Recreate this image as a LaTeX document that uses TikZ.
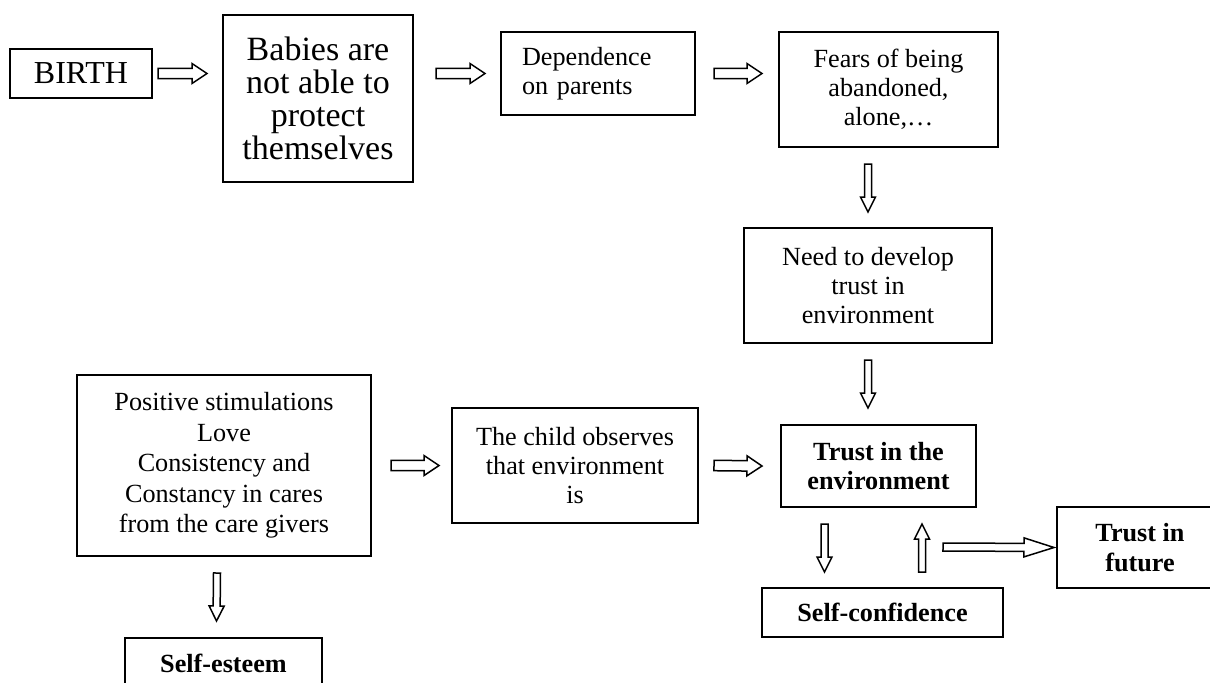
\documentclass[tikz,border=0pt]{standalone}
\usepackage{fontspec}
\setmainfont{Liberation Serif}
\usetikzlibrary{calc}
\newcommand{\bodytext}{\fontsize{13.1pt}{14.6pt}\selectfont}
\newcommand{\bigtext}{\fontsize{16pt}{16.5pt}\selectfont}
\tikzset{
  shaft/.store in=\arrshaft, wing/.store in=\arrwing, headlen/.store in=\arrhead,
  shaft=2.6pt, wing=5pt, headlen=7.5pt,
  box/.style={draw, line width=1pt, inner sep=0pt, align=center, font=\bodytext},
  % hollow block arrow between two points
  fatarrow/.style={draw, line width=0.75pt, fill=white, line join=miter,
    to path={let \p1=(\tikztostart), \p2=(\tikztotarget), \p3=($(\p2)!\arrhead!(\p1)$) in
      ($(\p1)!\arrshaft!90:(\p2)$) -- ($(\p3)!\arrshaft!90:(\p2)$) -- ($(\p3)!\arrwing!90:(\p2)$)
      -- (\p2) -- ($(\p3)!\arrwing!-90:(\p2)$) -- ($(\p3)!\arrshaft!-90:(\p2)$)
      -- ($(\p1)!\arrshaft!-90:(\p2)$) -- cycle}},
  vertarrow/.style={fatarrow, shaft=1.75pt, wing=3.75pt, headlen=7.5pt},
  longarrow/.style={fatarrow, shaft=2pt, wing=4.75pt, headlen=15pt},
}
\begin{document}
\begin{tikzpicture}[x=0.5pt,y=-0.5pt]
\useasboundingbox (0,0) rectangle (1210,682);
\clip (0,0) rectangle (1210,682);
% Top row
\node[box, font=\bigtext, minimum width=71pt, minimum height=24.5pt] (birth) at (81,73.5) {BIRTH};
\node[box, font=\fontsize{17pt}{16.5pt}\selectfont, minimum width=95pt, minimum height=83.5pt] (babies) at (318,98.5) {Babies are\\not able to\\protect\\themselves};
\node[box, align=left, text width=76pt, inner xsep=10.5pt, minimum height=41.5pt] (depend) at (598,73.5) {Dependence\\on parents};
\node[box, minimum width=109.5pt, minimum height=57.5pt] (fears) at (888.5,89.5) {Fears of being\\abandoned,\\alone,\dots};
\node[box, minimum width=124pt, minimum height=57.5pt] (need) at (868,285.5) {Need to develop\\trust in\\environment};
% Lower part
\node[box, font=\fontsize{13.1pt}{15.3pt}\selectfont, minimum width=147pt, minimum height=90.5pt] (positive) at (224,465.5) {Positive stimulations\\Love\\Consistency and\\Constancy in cares\\from the care givers};
\node[box, font=\bodytext\bfseries, minimum width=98.5pt, minimum height=25pt] (esteem) at (223.5,663) {Self-esteem};
\node[box, minimum width=123pt, minimum height=57.5pt] (child) at (575,465.5) {The child observes\\that environment\\is};
\node[box, font=\bodytext\bfseries, minimum width=97.5pt, minimum height=41pt] (trust) at (878.5,466) {Trust in the\\environment};
\node[box, font=\bodytext\bfseries, minimum width=120.5pt, minimum height=24.5pt] (confid) at (882.5,612.5) {Self-confidence};
\node[box, font=\bodytext\bfseries, minimum width=83pt, minimum height=40.5pt] (future) at (1140,547.5) {Trust in\\future};
% Arrows
\draw[fatarrow] ($(birth.east)+(5,0)$) to ($(babies.west |- birth.east)+(-15,0)$);
\draw[fatarrow] ($(babies.east |- birth.east)+(22,0)$) to ($(depend.west |- birth.east)+(-15,0)$);
\draw[fatarrow] ($(depend.east |- birth.east)+(18,0)$) to ($(fears.west |- birth.east)+(-16,0)$);
\draw[vertarrow] ($(need.north |- fears.south)+(0,16)$) to ($(need.north)+(0,-15)$);
\draw[vertarrow] ($(need.south)+(0,16)$) to ($(need.south |- trust.north)+(0,-16)$);
\draw[fatarrow] ($(positive.east)+(19,0)$) to ($(child.west)+(-12,0)$);
\draw[fatarrow] ($(child.east)+(15,0)$) to ($(trust.west)+(-18,0)$);
\draw[vertarrow] ($(positive.south)+(-7,16)$) to ($(esteem.north)+(-7,-16)$);
\draw[vertarrow] ($(trust.south)+(-54,16)$) to ($(confid.north)+(-58,-15)$);
\draw[vertarrow] ($(confid.north)+(39.5,-15)$) to ($(trust.south)+(43.5,16)$);
\draw[longarrow] ($(confid.north east)+(-61,-40)$) to ($(future.west)+(-2,0)$);
\end{tikzpicture}
\end{document}
